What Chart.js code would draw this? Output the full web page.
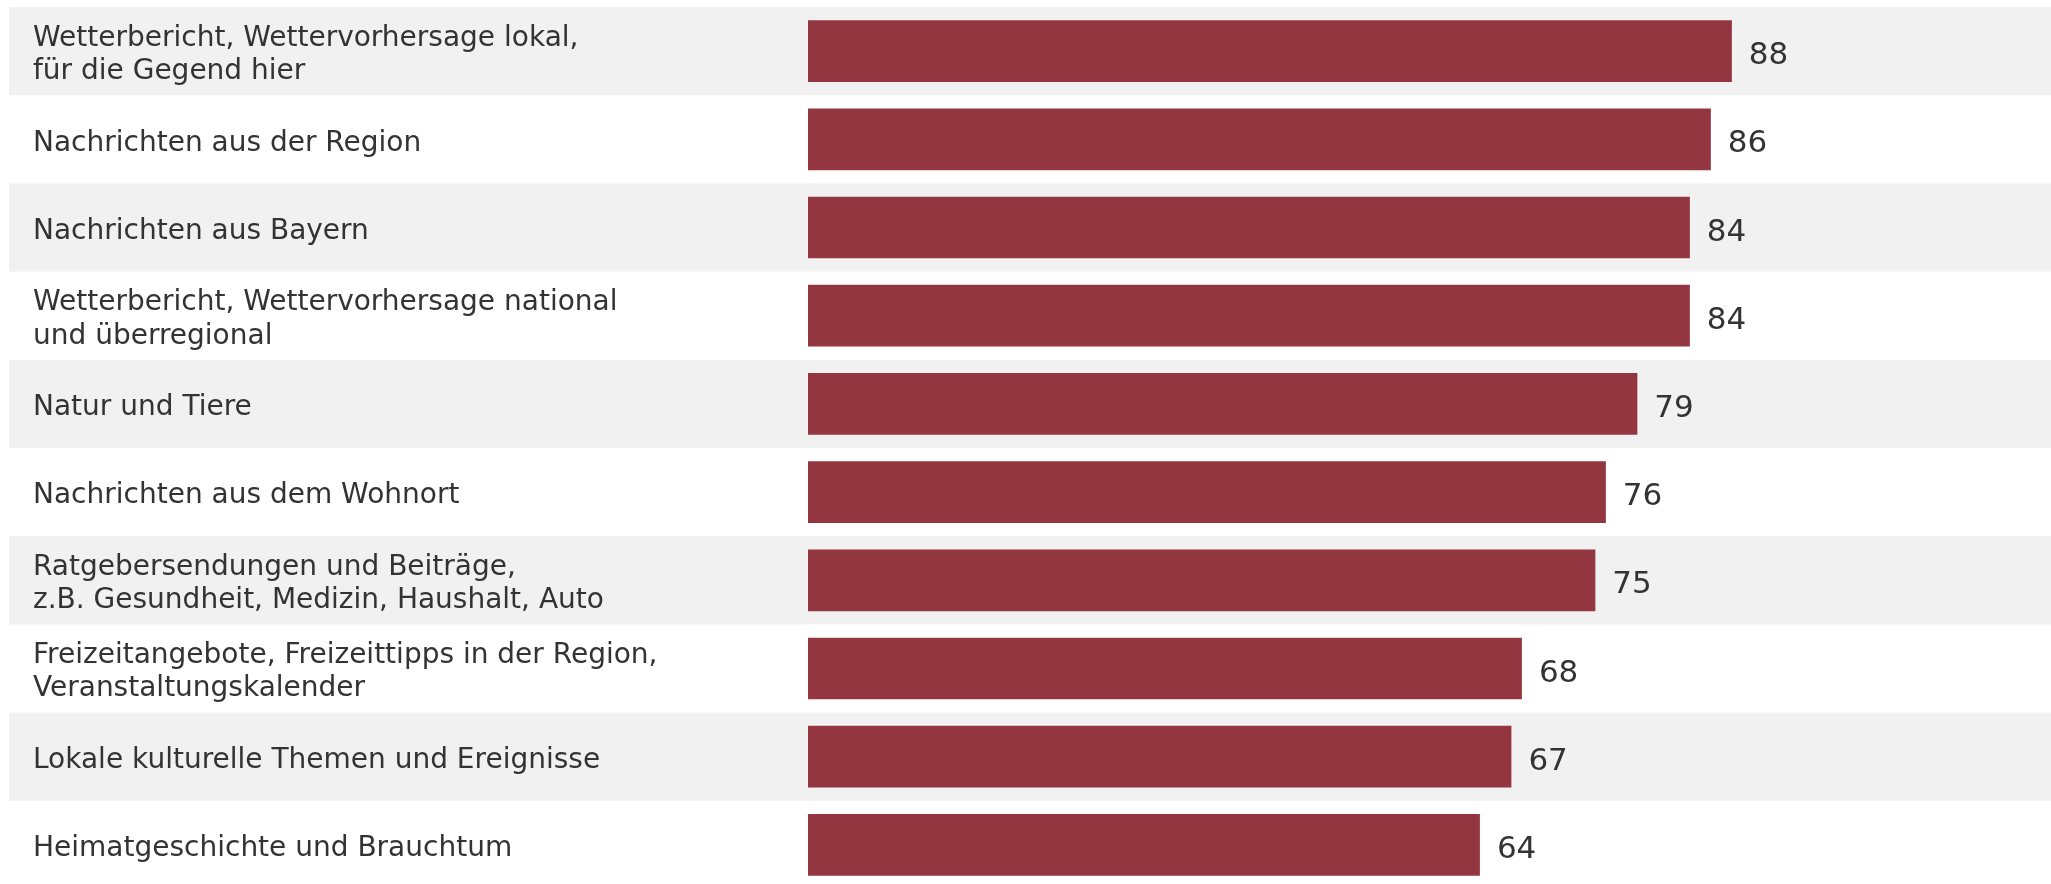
<!DOCTYPE html>
<html lang="de">
<head>
  <meta charset="UTF-8">
  <title>Interessen</title>
  <script src="https://cdn.jsdelivr.net/npm/chart.js@4.4.1/dist/chart.umd.min.js"></script>
  <style>
    html, body { margin: 0; padding: 0; background: #fff; overflow: hidden; }
    .chart-box { width: 2051px; height: 889px; }
  </style>
</head>
<body>
  <div class="chart-box"><canvas id="themeChart"></canvas></div>

  <script>
    const categories = [
      ['Wetterbericht, Wettervorhersage lokal,', 'für die Gegend hier'],
      'Nachrichten aus der Region',
      'Nachrichten aus Bayern',
      ['Wetterbericht, Wettervorhersage national', 'und überregional'],
      'Natur und Tiere',
      'Nachrichten aus dem Wohnort',
      ['Ratgebersendungen und Beiträge,', 'z.B. Gesundheit, Medizin, Haushalt, Auto'],
      ['Freizeitangebote, Freizeittipps in der Region,', 'Veranstaltungskalender'],
      'Lokale kulturelle Themen und Ereignisse',
      'Heimatgeschichte und Brauchtum'
    ];
    const values = [88, 86, 84, 84, 79, 76, 75, 68, 67, 64];

    const barColor = '#943640';
    const bandColor = '#f1f1f1';
    const textColor = '#333333';

    // grey stripes behind every other row
    const stripes = {
      id: 'stripes',
      beforeDraw(chart) {
        const y = chart.scales.y;
        const ctx = chart.ctx;
        const step = y.height / categories.length;
        ctx.save();
        ctx.fillStyle = bandColor;
        categories.forEach((c, i) => {
          if (i % 2 === 0) {
            const mid = y.getPixelForValue(i);
            ctx.fillRect(9, mid - step / 2, chart.width - 9, step);
          }
        });
        ctx.restore();
      }
    };

    // value labels at the end of each bar
    const valueLabels = {
      id: 'valueLabels',
      afterDatasetsDraw(chart) {
        const ctx = chart.ctx;
        const meta = chart.getDatasetMeta(0);
        ctx.save();
        ctx.font = '31px "DejaVu Sans"';
        ctx.fillStyle = textColor;
        ctx.textAlign = 'left';
        ctx.textBaseline = 'middle';
        meta.data.forEach((bar, i) => {
          ctx.fillText(values[i], bar.x + 17, bar.y + 5);
        });
        ctx.restore();
      }
    };

    new Chart(document.getElementById('themeChart'), {
      type: 'bar',
      data: {
        labels: categories,
        datasets: [{
          data: values,
          backgroundColor: barColor,
          categoryPercentage: 1,
          barPercentage: 0.7
        }]
      },
      options: {
        indexAxis: 'y',
        responsive: true,
        maintainAspectRatio: false,
        animation: false,
        layout: { padding: { left: 33, top: 7, right: 0, bottom: 0 } },
        plugins: {
          legend: { display: false },
          tooltip: { enabled: false }
        },
        scales: {
          x: {
            display: false,
            min: 0,
            max: 118.4
          },
          y: {
            grid: { display: false },
            border: { display: false },
            afterFit(scale) {
              scale.width = 808 - 33;
              scale.paddingTop = 0;
              scale.paddingBottom = 0;
            },
            ticks: {
              crossAlign: 'far',
              padding: 0,
              labelOffset: 4,
              color: textColor,
              font: { family: 'DejaVu Sans', size: 28, lineHeight: 1.18 }
            }
          }
        }
      },
      plugins: [stripes, valueLabels]
    });
  </script>
</body>
</html>
